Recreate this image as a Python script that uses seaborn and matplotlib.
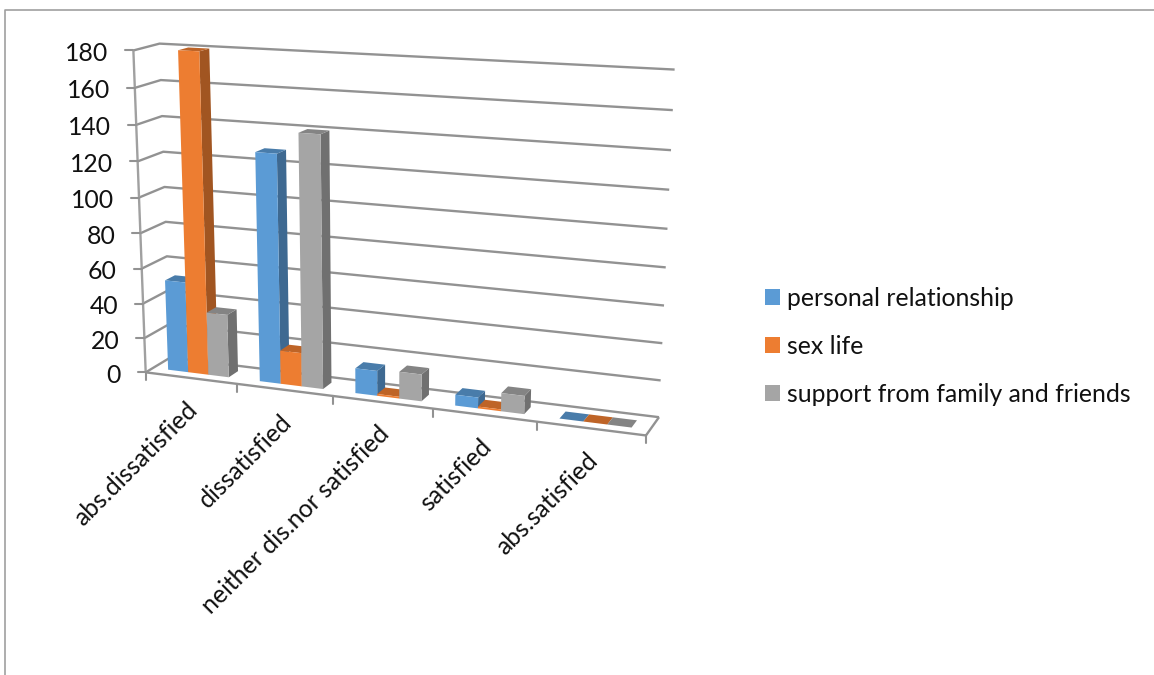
import numpy as np
import pandas as pd
import seaborn as sns
import matplotlib
matplotlib.use("Agg")
import matplotlib.pyplot as plt
from matplotlib.patches import Patch, Polygon
from matplotlib.transforms import Transform

categories = ["abs.dissatisfied", "dissatisfied", "neither dis.nor satisfied", "satisfied", "abs.satisfied"]
personal = [52, 128, 14, 6, 0]
sex_life = [180, 19, 1, 1, 0]
support = [36, 140, 15, 10, 0]
series_names = ["personal relationship", "sex life", "support from family and friends"]
colors = ["#5B9BD5", "#ED7D31", "#A5A5A5"]
y_ticks = list(range(0, 181, 20))

sns.set_theme(style="white")
plt.rcParams["font.family"] = ["Lato", "DejaVu Sans"]

# camera fitted to the chart's box corners: (category, value, depth) -> pixel
anchors = [
    (0, 180, 0, 132, 51), (0, 0, 0, 147, 371), (1, 0, 0, 237.7, 383), (2, 0, 0, 332.7, 395.5),
    (3, 0, 0, 432, 408.5), (4, 0, 0, 536.7, 422.5), (5, 0, 0, 646.7, 437),
    (0, 180, 1, 161, 42.7), (0, 0, 1, 169, 360), (5, 180, 1, 674.5, 70), (5, 0, 1, 659, 415),
]
A = []
for X, Y, Z, u, v in anchors:
    p = [X, Y / 36, Z, 1]
    A.append(p + [0, 0, 0, 0] + [-u * c for c in p])
    A.append([0, 0, 0, 0] + p + [-v * c for c in p])
CAM = np.linalg.svd(np.array(A, float))[2][-1].reshape(3, 4)


def project(x, y, z):
    x, y, z = np.broadcast_arrays(np.asarray(x, float), np.asarray(y, float), np.asarray(z, float))
    h = CAM @ np.stack([x, y / 36, z, np.ones_like(x, float)])
    return h[0] / h[2], h[1] / h[2]


class Plane(Transform):
    input_dims = output_dims = 2
    is_separable = False
    has_inverse = False

    def __init__(self, z):
        super().__init__()
        self.z = z

    def transform_non_affine(self, values):
        values = np.asarray(values, float)
        px, py = project(values[:, 0] + 0.5, values[:, 1], self.z)
        return np.column_stack([px, py])


df = pd.DataFrame({
    "category": categories * 3,
    "series": np.repeat(series_names, len(categories)),
    "value": personal + sex_life + support,
})

fig = plt.figure(figsize=(11.54, 6.75), dpi=100, facecolor="white")
ax = fig.add_axes([0, 0, 1, 1])
sns.barplot(data=df, x="category", y="value", hue="series", palette=colors, saturation=1,
            width=2 / 3, linewidth=0, legend=False, errorbar=None, ax=ax)
ax.set_xlim(0, 1154)
ax.set_ylim(675, 0)
ax.set_axis_off()

Z0, Z1 = 0.3, 0.7
GRID = "#929292"
FS = 17.8


def line(xs, ys, zs, color=GRID, lw=1.7):
    px, py = project(xs, ys, zs)
    ax.plot(px, py, color=color, lw=lw, zorder=1, solid_capstyle="butt")


# walls and floor
for v in y_ticks:
    line([0, 0, 5], [v, v, v], [0, 1, 1])
line([0, 0], [0, 180], [0, 0], color="#a0a0a0")
line([0, 5, 5], [0, 0, 0], [0, 0, 1])

# extruded bars
bars = sorted(ax.patches, key=lambda b: b.get_x())
for k, bar in enumerate(bars):
    x0, x1, h = bar.get_x() + 0.5, bar.get_x() + bar.get_width() + 0.5, bar.get_height()
    rgb = np.array(bar.get_facecolor()[:3])
    zo = 3 + 3 * k
    sx, sy = project([x1, x1, x1, x1], [0, h, h, 0], [Z0, Z0, Z1, Z1])
    ax.add_patch(Polygon(np.column_stack([sx, sy]), fc=rgb * 0.68, lw=0, zorder=zo))
    tx, ty = project([x0, x1, x1, x0], [h, h, h, h], [Z0, Z0, Z1, Z1])
    ax.add_patch(Polygon(np.column_stack([tx, ty]), fc=rgb * 0.8, lw=0, zorder=zo + 1))
    bar.set_transform(Plane(Z0) + ax.transData)
    bar.set_zorder(zo + 2)

# value axis
for v in y_ticks:
    px, py = project(0, v, 0)
    ax.plot([px - 8, px], [py, py], color=GRID, lw=1.5, zorder=1)
    ax.text(px - 25, py + 3, str(v), ha="right", va="center", fontsize=FS, color="#111111")

# category axis
for i in range(6):
    px, py = project(i, 0, 0)
    ax.plot([px, px], [py, py + 8], color=GRID, lw=1.5, zorder=1)
for i, name in enumerate(categories):
    px, py = project(i + 0.5, 0, 0)
    ax.text(px + 3, py + 28, name, rotation=45, rotation_mode="anchor", ha="right", va="center",
            fontsize=FS, color="#111111")

# frame of the picture
ax.plot([4.5, 4.5, 1154], [675, 9.5, 9.5], color="#a0a0a0", lw=1.2, zorder=1)

handles = [Patch(fc=c, lw=0, label=n) for c, n in zip(colors, series_names)]
ax.legend(handles=handles, loc="upper left", bbox_to_anchor=(765 / 1154, 1 - 287 / 675),
          frameon=False, fontsize=FS, borderpad=0, borderaxespad=0,
          handlelength=0.607, handleheight=0.607, handletextpad=0.28, labelspacing=1.01,
          labelcolor="#111111")

fig.savefig("out.png", dpi=100)
